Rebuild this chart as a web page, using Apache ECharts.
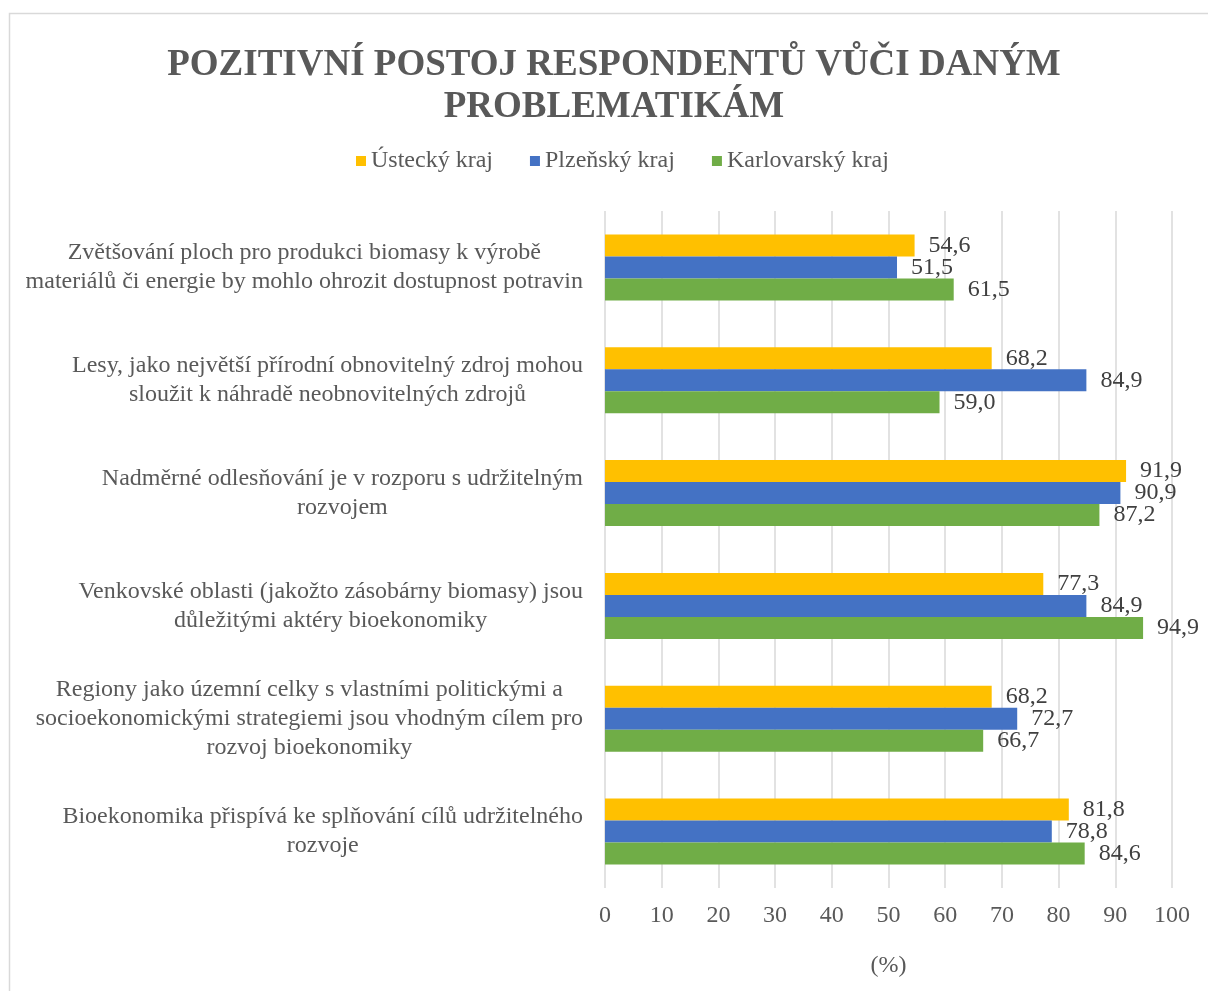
<!DOCTYPE html>
<html>
<head>
<meta charset="utf-8">
<script src="https://cdn.jsdelivr.net/npm/echarts@6/dist/echarts.min.js"></script>
<style>
  html, body { margin: 0; padding: 0; background: #fff; overflow: hidden; }
  #chart { width: 1208px; height: 991px; }
</style>
</head>
<body>
<div id="chart"></div>
<script>
// kategorie (shora dolů)
var categories = [
  'Zvětšování ploch pro produkci biomasy k výrobě\nmateriálů či energie by mohlo ohrozit dostupnost potravin',
  'Lesy, jako největší přírodní obnovitelný zdroj mohou\nsloužit k náhradě neobnovitelných zdrojů',
  'Nadměrné odlesňování je v rozporu s udržitelným\nrozvojem',
  'Venkovské oblasti (jakožto zásobárny biomasy) jsou\ndůležitými aktéry bioekonomiky',
  'Regiony jako územní celky s vlastními politickými a\nsocioekonomickými strategiemi jsou vhodným cílem pro\nrozvoj bioekonomiky',
  'Bioekonomika přispívá ke splňování cílů udržitelného\nrozvoje'
]
var seriesNames = ['Ústecký kraj', 'Plzeňský kraj', 'Karlovarský kraj']
var ustecky = [54.6, 68.2, 91.9, 77.3, 68.2, 81.8]
var plzensky = [51.5, 84.9, 90.9, 84.9, 72.7, 78.8]
var karlovarsky = [61.5, 59.0, 87.2, 94.9, 66.7, 84.6]
var colors = ['#FFC000', '#4472C4', '#70AD47']

var font = '"Liberation Serif", "Times New Roman", serif'
var chart = echarts.init(document.getElementById('chart'))

function makeSeries (name, data, color) {
  return {
    name: name,
    type: 'bar',
    data: data,
    barWidth: 22,
    barGap: '0%',
    itemStyle: { color: color },
    label: {
      show: true,
      position: 'right',
      distance: 14,
      color: '#404040',
      fontFamily: font,
      fontSize: 24,
      formatter: function (p) {
        return p.value.toFixed(1).replace('.', ',')
      }
    }
  }
}

var options = {
  animation: false,
  title: {
    text: 'POZITIVNÍ POSTOJ RESPONDENTŮ VŮČI DANÝM\nPROBLEMATIKÁM',
    left: 614,
    top: 44,
    textAlign: 'center',
    padding: 0,
    textStyle: {
      fontFamily: font,
      fontWeight: 'bold',
      fontSize: 37,
      lineHeight: 42,
      color: '#595959'
    }
  },
  legend: {
    left: 356,
    top: 149,
    padding: 0,
    itemWidth: 10,
    itemHeight: 10,
    itemGap: 37,
    icon: 'rect',
    data: seriesNames,
    textStyle: {
      fontFamily: font,
      fontSize: 24,
      color: '#595959'
    }
  },
  graphic: [{
    type: 'rect',
    shape: { x: 9.5, y: 13.5, width: 1400, height: 1200 },
    style: { fill: 'none', stroke: '#d9d9d9', lineWidth: 1.5 },
    silent: true
  }],
  grid: {
    left: 605,
    right: 36,
    top: 211,
    bottom: 103,
    containLabel: false
  },
  xAxis: {
    type: 'value',
    min: 0,
    max: 100,
    interval: 10,
    name: '(%)',
    nameLocation: 'middle',
    nameGap: 66,
    nameTextStyle: {
      fontFamily: font,
      fontSize: 24,
      color: '#595959'
    },
    axisLine: { show: false },
    axisTick: { show: false },
    axisLabel: {
      margin: 16,
      fontFamily: font,
      fontSize: 24,
      color: '#595959'
    },
    splitLine: {
      lineStyle: { color: '#d9d9d9', width: 1.5 }
    }
  },
  yAxis: {
    type: 'category',
    inverse: true,
    data: categories,
    axisLine: { show: false },
    axisTick: { show: false },
    axisLabel: {
      margin: 22,
      align: 'right',
      formatter: function (v) {
        return v.split('\n').map(function (s) { return '{c|' + s + '}' }).join('\n')
      },
      rich: {
        c: {
          align: 'center',
          fontFamily: font,
          fontSize: 24,
          lineHeight: 29,
          color: '#595959'
        }
      }
    }
  },
  series: [
    makeSeries(seriesNames[0], ustecky, colors[0]),
    makeSeries(seriesNames[1], plzensky, colors[1]),
    makeSeries(seriesNames[2], karlovarsky, colors[2])
  ]
}

chart.setOption(options)
window.addEventListener('resize', function () {
  chart.resize()
})
</script>
</body>
</html>
